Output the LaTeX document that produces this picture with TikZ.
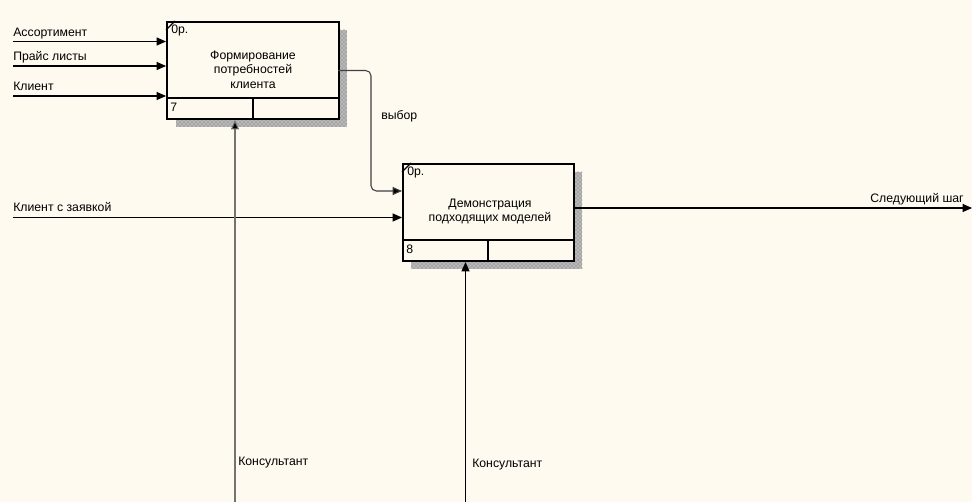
\documentclass[tikz,border=0pt]{standalone}
\usepackage{fontspec}
\setmainfont{Liberation Sans}
\usetikzlibrary{arrows.meta,patterns}
\definecolor{paper}{HTML}{FFFAF0}
\definecolor{shade}{HTML}{6E6E6E}
\begin{document}
\begin{tikzpicture}[x=0.75pt,y=-0.75pt,
  font=\fontsize{9.2}{11}\selectfont,
  box/.style={draw,line width=1.5pt,fill=paper,anchor=north west,inner sep=0pt},
  shadow/.style={fill=black!28,postaction={pattern=crosshatch dots,pattern color=shade}},
  flow/.style={line width=0.8pt,-{Triangle[length=7pt,width=6pt]}},
  lbl/.style={inner sep=0pt,anchor=base west},
  part/.style={line width=1.5pt}]
\fill[paper] (0,0) rectangle (972,502);
\useasboundingbox (0,0) rectangle (972,502);

% hatched shadows behind the two activity boxes
\fill[shadow] (338,30) rectangle (347,127);
\fill[shadow] (176,118) rectangle (347,127);
\fill[shadow] (573,172) rectangle (582,269);
\fill[shadow] (411,260) rectangle (582,269);

% activity boxes
\node[box,minimum width=129pt,minimum height=72.75pt] (b1) at (166,21) {};
\node[box,minimum width=128.25pt,minimum height=72.75pt] (b2) at (402,163) {};

% box 1 details
\draw[line width=1pt] (166,30) -- (175,21);
\node[lbl] (op1) at (171,34) {0р.};
\node[align=center,inner sep=0pt] (t1) at (253,69.5) {Формирование\\потребностей\\клиента};
\draw[part] (166,98) -- (338,98);
\draw[part] (253,98) -- (253,118);
\node[lbl] (n1) at (170,112) {7};

% box 2 details
\draw[line width=1pt] (402,172) -- (411,163);
\node[lbl] (op2) at (407,176) {0р.};
\node[align=center,inner sep=0pt] (t2) at (490,211.5) {Демонстрация\\подходящих моделей};
\draw[part] (402,240) -- (573,240);
\draw[part] (488,240) -- (488,260);
\node[lbl] (n2) at (406,254) {8};

% inputs of box 1
\coordinate (a1) at (13,41.5);
\coordinate (a2) at (13,66);
\coordinate (a3) at (13,96);
\draw[flow] (a1) -- (b1.west |- a1);
\draw[flow] (a2) -- (b1.west |- a2);
\draw[flow] (a3) -- (b1.west |- a3);
\node[lbl] (l1) at (13,37) {Ассортимент};
\node[lbl] (l2) at (13,61) {Прайс листы};
\node[lbl] (l3) at (13,91) {Клиент};

% link between the boxes
\coordinate (v1) at (338,70.5);
\coordinate (v2) at (371,191);
\draw[flow,rounded corners=4pt,draw=black!75,-{Triangle[length=7pt,width=6pt,fill=black]}] (v1) -- (371,70.5) -- (v2) -- (b2.west |- v2);
\node[lbl] (lv) at (381,120) {выбор};

% input of box 2
\coordinate (c1) at (13,217.5);
\draw[flow] (c1) -- (b2.west |- c1);
\node[lbl] (lc) at (13,212) {Клиент с заявкой};

% output
\coordinate (o1) at (972,208);
\draw[flow] (b2.east |- o1) -- (o1);
\node[lbl,anchor=base east] (lo) at (964,203) {Следующий шаг};

% mechanisms
\coordinate (m1) at (235,502);
\coordinate (m2) at (465.5,502);
\draw[flow,draw=black!55,-{Triangle[length=7pt,width=6pt,fill=black]}] (m1) -- (b1.south -| m1);
\draw[flow] (m2) -- (b2.south -| m2);
\node[lbl] (lm1) at (238,465) {Консультант};
\node[lbl] (lm2) at (472,468) {Консультант};
\end{tikzpicture}
\end{document}
